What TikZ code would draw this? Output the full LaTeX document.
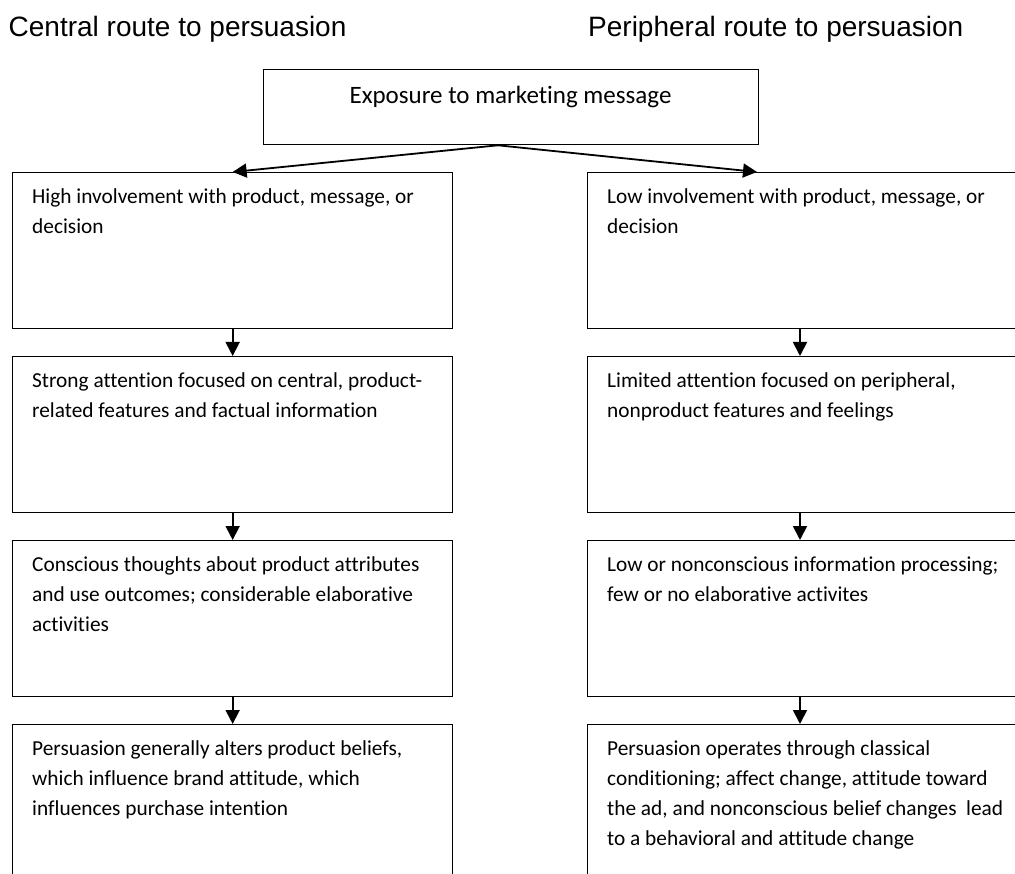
\documentclass[tikz,border=0pt]{standalone}
\usepackage{fontspec}
\setmainfont{Carlito}[Ligatures=NoCommon]
\newfontfamily\headfont{Liberation Sans}
\usetikzlibrary{arrows.meta,calc}
\begin{document}
\begin{tikzpicture}[x=1pt,y=-1pt,
  stagebox/.style={draw,line width=1.3pt,rectangle,inner sep=0pt,anchor=north west,
    minimum width=#1,minimum height=156pt},
  lastbox/.style={stagebox=#1,minimum height=220pt},
  boxtext/.style={anchor=north west,inner sep=0pt,align=left,
    font=\fontsize{21.33}{30}\selectfont},
  heading/.style={anchor=base west,inner sep=0pt,font=\headfont\fontsize{28}{34}\selectfont},
  arr/.style={line width=1.8pt,-{Triangle[length=14pt,width=14pt]}}]
\useasboundingbox (0,0) rectangle (1015,874);
\fill[white] (0,0) rectangle (1015,874);
\clip (0,0) rectangle (1015,874);

% headings
\node[heading] (hc) at (8.5,37) {Central route to persuasion};
\node[heading] (hp) at (588,37) {Peripheral route to persuasion};

% source box
\node[draw,line width=1.3pt,inner sep=0pt,anchor=north west,
  minimum width=495pt,minimum height=75pt] (src) at (263,69) {};
\node[anchor=base,inner sep=0pt,font=\fontsize{25}{30}\selectfont] (srct) at (510.5,104)
  {Exposure to marketing message};

% central route
\node[stagebox=440pt] (L1) at (12,172) {};
\node[stagebox=440pt] (L2) at (12,356) {};
\node[stagebox=440pt] (L3) at (12,540) {};
\node[lastbox=440pt] (L4) at (12,724) {};

% peripheral route
\node[stagebox=445pt] (R1) at (587,172) {};
\node[stagebox=445pt] (R2) at (587,356) {};
\node[stagebox=445pt] (R3) at (587,540) {};
\node[lastbox=445pt] (R4) at (587,724) {};

% box texts
\node[boxtext] (L1t) at ($(L1.north west)+(20,10)$)
  {\strut High involvement with product, message, or\\decision};
\node[boxtext] (L2t) at ($(L2.north west)+(20,10)$)
  {\strut Strong attention focused on central, product-\\related features and factual information};
\node[boxtext] (L3t) at ($(L3.north west)+(20,10)$)
  {\strut Conscious thoughts about product attributes\\and use outcomes; considerable elaborative\\activities};
\node[boxtext] (L4t) at ($(L4.north west)+(20,10)$)
  {\strut Persuasion generally alters product beliefs,\\which influence brand attitude, which\\influences purchase intention};
\node[boxtext] (R1t) at ($(R1.north west)+(20,10)$)
  {\strut Low involvement with product, message, or\\decision};
\node[boxtext] (R2t) at ($(R2.north west)+(20,10)$)
  {\strut Limited attention focused on peripheral,\\nonproduct features and feelings};
\node[boxtext] (R3t) at ($(R3.north west)+(20,10)$)
  {\strut Low or nonconscious information processing;\\few or no elaborative activites};
\node[boxtext] (R4t) at ($(R4.north west)+(20,10)$)
  {\strut Persuasion operates through classical\\conditioning; affect change, attitude toward\\the ad, and nonconscious belief changes\ \ lead\\to a behavioral and attitude change};

% fork from the source box
\coordinate (fork) at ($(src.south west)+(235,0)$);
\coordinate (rin) at ($(R1.north west)+(170,0)$);
\draw[arr] (fork) -- (L1.north);
\draw[arr] (fork) -- (rin);

% central route arrows
\draw[arr] (L1.south) -- (L2.north);
\draw[arr] (L2.south) -- (L3.north);
\draw[arr] (L3.south) -- (L4.north);

% peripheral route arrows
\draw[arr] ($(R1.south west)+(213,0)$) -- ($(R2.north west)+(213,0)$);
\draw[arr] ($(R2.south west)+(213,0)$) -- ($(R3.north west)+(213,0)$);
\draw[arr] ($(R3.south west)+(213,0)$) -- ($(R4.north west)+(213,0)$);
\end{tikzpicture}
\end{document}
